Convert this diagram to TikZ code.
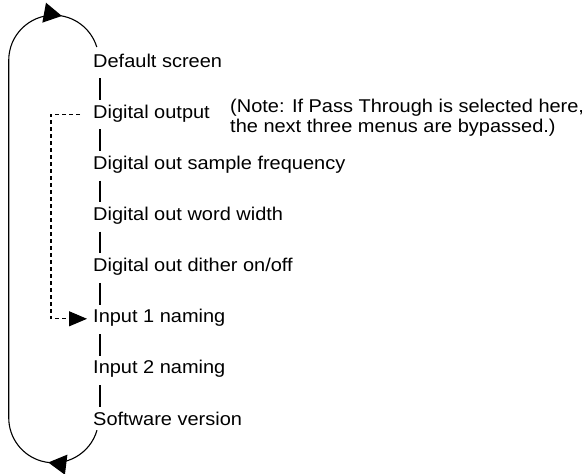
\documentclass[tikz,border=0pt]{standalone}
\usepackage{fontspec}
\setmainfont{Liberation Sans}[FakeStretch=1.08]
\usetikzlibrary{arrows.meta,decorations.markings}
\begin{document}
\begin{tikzpicture}[x=1pt,y=-1pt,
  every node/.style={font=\fontsize{18.5}{20}\selectfont},
  menu/.style={anchor=base west,inner sep=0pt,text height=13pt,text depth=5pt},
  link/.style={line width=1.1pt,shorten <=6pt,shorten >=5pt},
  loopline/.style={line width=1.1pt},
  bypass/.style={line width=1.1pt,dash pattern=on 4pt off 3pt,-{Triangle[length=18pt,width=15pt]}}]
\useasboundingbox (0,0) rectangle (584,474);
\node[menu] (m1) at (93,67) {Default screen};
\node[menu] (m2) at (93,118.2) {Digital output};
\node[menu] (m3) at (93,169.3) {Digital out sample frequency};
\node[menu] (m4) at (93,220.5) {Digital out word width};
\node[menu] (m5) at (93,271.6) {Digital out dither on/off};
\node[menu] (m6) at (93,322.8) {Input 1 naming};
\node[menu] (m7) at (93,373.9) {Input 2 naming};
\node[menu] (m8) at (93,425) {Software version};
\node[menu,align=left] (note) at (230,132) {(Note: If Pass Through is selected here,\\the next three menus are bypassed.)};
\draw[link] ([xshift=7pt]m1.south west) -- ([xshift=7pt]m2.north west);
\draw[link] ([xshift=7pt]m2.south west) -- ([xshift=7pt]m3.north west);
\draw[link] ([xshift=7pt]m3.south west) -- ([xshift=7pt]m4.north west);
\draw[link] ([xshift=7pt]m4.south west) -- ([xshift=7pt]m5.north west);
\draw[link] ([xshift=7pt]m5.south west) -- ([xshift=7pt]m6.north west);
\draw[link] ([xshift=7pt]m6.south west) -- ([xshift=7pt]m7.north west);
\draw[link] ([xshift=7pt]m7.south west) -- ([xshift=7pt]m8.north west);
\draw[bypass] ([xshift=-13pt]m2.west) -- ++(-29,0) |- ([xshift=-6pt]m6.west);
\draw[loopline,postaction={decorate},decoration={markings,
  mark=at position 0.1035 with {\arrow{Triangle[length=18pt,width=20pt]}},
  mark=at position 0.92 with {\arrow{Triangle[length=18pt,width=20pt]}}}]
  ([xshift=4pt]m8.south west) arc[start angle=16,end angle=180,radius=45]
  -- ++(0,-357.6) arc[start angle=180,end angle=343,radius=45];
\end{tikzpicture}
\end{document}
